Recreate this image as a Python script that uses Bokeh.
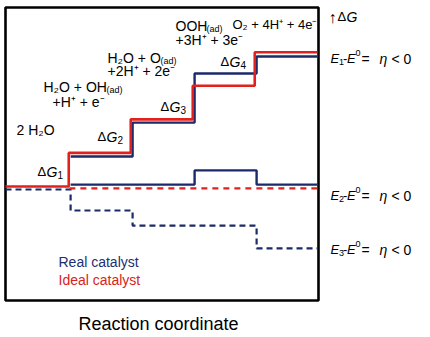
from bokeh.plotting import figure
from bokeh.models import Label, Range1d
from bokeh.embed import file_html
from bokeh.resources import INLINE

# ---------------- data (free energy levels in eV) ----------------
states = [0, 1, 2, 3, 4]                     # reaction coordinate: 2H2O, OH*, O*, OOH*, O2
ideal_E1 = [0.0, 1.23, 2.46, 3.69, 4.92]     # ideal catalyst, solid red
real_E1 = [0.0, 1.10, 2.34, 4.14, 4.76]      # real catalyst, solid navy
real_E2 = [0.07, 0.07, 0.07, 0.59, 0.07]     # real catalyst at E2, solid navy
ideal_E2 = [-0.07, -0.07, -0.07, -0.07, -0.07]  # ideal catalyst at E2, dashed red
real_E3 = [-0.11, -0.88, -1.43, -1.43, -2.27]   # real catalyst at E3, dashed navy

NAVY = "#1b2a6b"
RED = "#e2211c"
FONT = "Liberation Sans"

# ---------------- figure ----------------
W, H = 422, 335
PX_PER_X = 62.0      # pixels per reaction step
PX_PER_EV = 27.3     # pixels per eV
X_ORIGIN_PX = 5      # canvas x of reaction coordinate 0
Y_ORIGIN_PX = 186    # canvas y of 0 eV
TEXT_DY = -4         # baseline correction for labels

X0 = -X_ORIGIN_PX / PX_PER_X
X1 = (W - X_ORIGIN_PX) / PX_PER_X
Y1 = Y_ORIGIN_PX / PX_PER_EV
Y0 = (Y_ORIGIN_PX - H) / PX_PER_EV

# plotting box (axes frame)
BOX_X = (0.0, 313 / PX_PER_X)
BOX_Y = ((Y_ORIGIN_PX - 300) / PX_PER_EV, (Y_ORIGIN_PX - 7) / PX_PER_EV)

p = figure(width=W, height=H, output_backend="svg", toolbar_location=None,
           x_axis_type=None, y_axis_type=None,
           x_range=Range1d(X0, X1), y_range=Range1d(Y0, Y1),
           min_border=0)
p.outline_line_color = None
p.background_fill_color = "white"
p.border_fill_color = "white"

# frame box
p.quad(left=[BOX_X[0]], right=[BOX_X[1]], bottom=[BOX_Y[0]], top=[BOX_Y[1]],
       fill_color=None, line_color="black", line_width=2.6)


def step_path(levels, start, shift):
    xs = [states[start] + (shift if start > 0 else 0)]
    ys = [levels[start]]
    for i in range(start + 1, len(levels)):
        xb = states[i] + shift
        xs += [xb, xb]
        ys += [levels[i - 1], levels[i]]
    xs.append(BOX_X[1] - 0.02)
    ys.append(levels[-1])
    return xs, ys


xs, ys = step_path(real_E3, 0, 0.05)
p.line(xs, ys, line_color=NAVY, line_width=2.2, line_dash="6 4")
xs, ys = step_path(ideal_E2, 1, 0.03)
p.line(xs, ys, line_color=RED, line_width=2.2, line_dash="6 5")
xs, ys = step_path(real_E2, 1, 0.05)
p.line(xs, ys, line_color=NAVY, line_width=2.4)
xs, ys = step_path(real_E1, 1, 0.05)
p.line(xs, ys, line_color=NAVY, line_width=2.4)
xs, ys = step_path(ideal_E1, 0, 0.02)
p.line(xs, ys, line_color=RED, line_width=2.6)


# ---------------- text ----------------
def lab(text, rx, ry, size=14, style="normal", color="black"):
    x = (rx - X_ORIGIN_PX) / PX_PER_X
    y = (Y_ORIGIN_PX - (ry + TEXT_DY)) / PX_PER_EV
    p.add_layout(Label(x=x, y=y, text=text, text_font=FONT,
                       text_font_size=f"{size}px", text_font_style=style,
                       text_color=color, text_baseline="alphabetic",
                       text_align="left"))


# species
lab("2 H\u2082O", 16, 133)
lab("H\u2082O + OH", 43, 90.5)
lab("(ad)", 106, 93.5, 9)
lab("+H\u207a + e\u207b", 52, 105.5)
lab("H\u2082O + O", 107, 61)
lab("(ad)", 160, 64, 9)
lab("+2H\u207a + 2e\u207b", 107, 74.5)
lab("OOH", 175, 29)
lab("(ad)", 206, 32, 9)
lab("+3H\u207a + 3e\u207b", 175, 43)
lab("O\u2082 + 4H\u207a + 4e\u207b", 232, 28, 13)

# Delta G labels
for sub, rx, ry in [("1", 37, 175), ("2", 97, 140), ("3", 160, 110), ("4", 220, 65)]:
    lab("\u0394", rx, ry, 13)
    lab("G", rx + 9, ry, 14, "italic")
    lab(sub, rx + 20, ry + 3, 10)

# energy axis arrow
lab("\u2191", 328, 21, 16, "bold")
lab("\u0394", 337, 20, 13)
lab("G", 346, 20, 14, "italic")

# potential labels
for sub, ry in [("1", 62), ("2", 199), ("3", 253)]:
    lab("E", 330, ry, 13, "italic")
    lab(sub, 338.5, ry + 3, 9)
    lab("-", 342.5, ry, 13)
    lab("E", 346.5, ry, 13, "italic")
    lab("0", 355, ry - 6, 9)
    lab("=", 361, ry, 14)
    lab("\u03b7", 379, ry, 14, "italic")
    lab("< 0", 391, ry, 14)

# legend
lab("Real catalyst", 58, 265, 14, color="#1d2f73")
lab("Ideal catalyst", 58, 283, 14, color="#d8231b")

# axis title
lab("Reaction coordinate", 78, 327, 18)

open("out.html", "w").write(file_html(p, INLINE))
